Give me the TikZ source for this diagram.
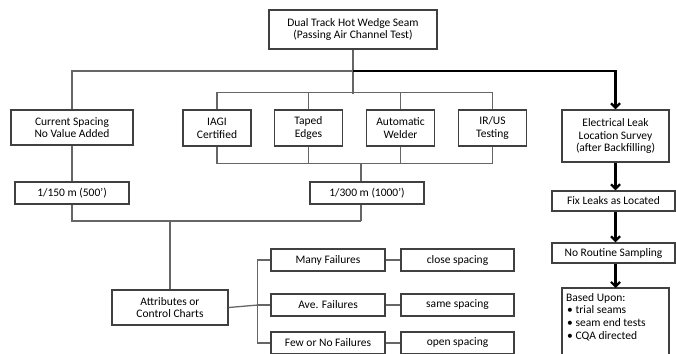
\documentclass[tikz,border=0pt]{standalone}
\usepackage{fontspec}
\setmainfont{Carlito}
\usetikzlibrary{arrows.meta}

\begin{document}
\begin{tikzpicture}[x=1pt, y=-1pt,
    every node/.style={font=\fontsize{11.5}{12.8}\selectfont},
    box/.style={draw=black!75, line width=1.4pt, inner sep=1pt, align=center, minimum height=22pt},
    link/.style={draw=black!60, line width=1.3pt},
    flowarrow/.style={draw=black, line width=2.2pt, -{Straight Barb[length=4.5pt,width=9pt]}}]

            \useasboundingbox (0,0) rectangle (676,353);
            \clip (0,0) rectangle (676,353);

            % Nodes
            \node[box, minimum width=168pt, minimum height=39pt] at (353,29.5) (seam) {Dual Track Hot Wedge Seam\\(Passing Air Channel Test)};

            \node[box, minimum width=122pt, minimum height=35pt] at (72,127.5) (current) {Current Spacing\\No Value Added};
            \node[box, minimum width=68pt, minimum height=36pt] at (217,128) (iagi) {IAGI\\Certified};
            \node[box, minimum width=68pt, minimum height=36pt] at (308.5,128) (taped) {Taped\\Edges};
            \node[box, minimum width=68pt, minimum height=36pt] at (400.5,128) (welder) {Automatic\\Welder};
            \node[box, minimum width=68pt, minimum height=36pt] at (492.5,128) (irus) {IR/US\\Testing};
            \node[box, minimum width=107pt, minimum height=52pt] at (615.5,136) (leak) {Electrical Leak\\Location Survey\\(after Backfilling)};

            \node[box, minimum width=114pt] at (72,193) (s150) {1/150 m (500’)};
            \node[box, minimum width=114pt] at (367,193) (s300) {1/300 m (1000’)};
            \node[box, minimum width=123pt, minimum height=20pt] at (613.5,201) (fix) {Fix Leaks as Located};
            \node[box, minimum width=123pt, minimum height=20pt] at (613.5,253) (routine) {No Routine Sampling};

            \node[box, minimum width=116pt, minimum height=35pt] at (170,307.5) (charts) {Attributes or\\Control Charts};
            \node[box, minimum width=114pt] at (328,260) (many) {Many Failures};
            \node[box, minimum width=114pt] at (328,305) (ave) {Ave. Failures};
            \node[box, minimum width=114pt] at (328,343) (few) {Few or No Failures};
            \node[box, minimum width=113pt] at (457.5,260) (close) {close spacing};
            \node[box, minimum width=113pt] at (457.5,305) (same) {same spacing};
            \node[box, minimum width=113pt] at (457.5,343) (open) {open spacing};

            \node[anchor=north west, align=left, inner xsep=4pt, inner ysep=5pt] at (562,288) (basis) {Based Upon:\\\hspace{1pt}• trial seams\\\hspace{1pt}• seam end tests\\\hspace{1pt}• CQA directed};
            \draw[draw=black!75, line width=1.4pt] (basis.north west) rectangle ++(107,75);

            % Lines
            \coordinate (fork) at (353,71);
            \coordinate (join) at (361,163);
            \coordinate (merge) at (361,221);
            \coordinate (branch) at (258,305);

            \draw[link] (seam.south) -- ++(0,44);
            \draw[link] (current.north) |- (fork);
            \draw[flowarrow] (fork) -| (leak.north);

            \draw[link] (iagi.north) -- ++(0,-17) -| (irus.north);
            \draw[link] (taped.north) -- ++(0,-17);
            \draw[link] (welder.north) -- ++(0,-17);
            \draw[link] (iagi.south) -- ++(0,17) -| (irus.south);
            \draw[link] (taped.south) -- ++(0,17);
            \draw[link] (welder.south) -- ++(0,17);
            \draw[link] (join) -- (join |- s300.north);

            \draw[link] (current.south) -- (s150.north);
            \draw[link] (s150.south) |- (merge);
            \draw[link] (merge) -- (merge |- s300.south);
            \draw[link] (charts.north) -- (charts.north |- merge);

            \draw[link] (charts.east) -- (branch);
            \draw[link] (many.west) -- ++(-13,0) |- (few.west);
            \draw[link] (branch) -- (ave.west);
            \draw[link] (many) -- (close);
            \draw[link] (ave) -- (same);
            \draw[link] (few) -- (open);

            % Leak survey path
            \draw[flowarrow] (leak.south) -- (leak.south |- fix.north);
            \draw[flowarrow] (fix.south -| leak.south) -- (leak.south |- routine.north);
            \draw[flowarrow] (routine.south -| leak.south) -- (leak.south |- basis.north);

        \end{tikzpicture}
\end{document}
